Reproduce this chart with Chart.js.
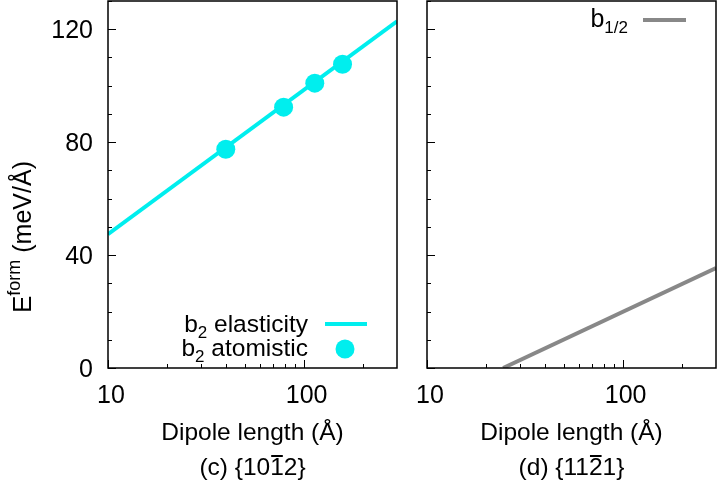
<!DOCTYPE html>
<html>
<head>
<meta charset="utf-8">
<script src="https://cdn.jsdelivr.net/npm/chart.js@4.4.0/dist/chart.umd.min.js"></script>
<style>
html, body { margin: 0; padding: 0; background: #fff; }
#wrap { position: relative; width: 717px; height: 482px; }
canvas { position: absolute; left: 0; top: 0; }
</style>
</head>
<body>
<div id="wrap">
  <canvas id="left" width="717" height="482"></canvas>
  <canvas id="right" width="717" height="482"></canvas>
</div>
<script>
// axis ranges and ticks
const xMin = 10, xMax = 300, yMin = 0, yMax = 130;
const xTickLabels = [10, 100];
const xMinorTicks = [20, 30, 40, 50, 60, 70, 80, 90, 200];
const yTickLabels = [0, 40, 80, 120];
const yMinorTicks = [10, 20, 30, 50, 60, 70, 90, 100, 110, 130];

// (c) b2 elasticity line and atomistic points
const elasticX = [10, 300];
const elasticY = [47.4, 122.8];
const atomX = [40, 79, 114, 158];
const atomY = [77.5, 92.4, 100.9, 107.6];

// (d) b1/2 line
const halfX = [24.5, 300];
const halfY = [0, 35.4];

const FONT = '"Liberation Sans", Arial, Helvetica, sans-serif';
const CYAN = '#00eeee';
const GRAY = '#888888';

const pts = (xs, ys) => xs.map((x, i) => ({ x: x, y: ys[i] }));

function drawRich(ctx, parts, x, y, align) {
    let w = 0;
    parts.forEach(p => {
        ctx.font = p.size + 'px ' + FONT;
        p.w = ctx.measureText(p.t).width;
        w += p.w;
    });
    let cx = align === 'right' ? x - w : align === 'center' ? x - w / 2 : x;
    ctx.textAlign = 'left';
    ctx.textBaseline = 'alphabetic';
    parts.forEach(p => {
        ctx.font = p.size + 'px ' + FONT;
        ctx.fillText(p.t, cx, y + (p.dy || 0));
        if (p.over) {
            ctx.beginPath();
            ctx.lineWidth = 2;
            ctx.moveTo(cx + 1, y - 19);
            ctx.lineTo(cx + p.w - 1, y - 19);
            ctx.stroke();
        }
        cx += p.w;
    });
}

function framePlugin(opts) {
    return {
        id: 'frame',
        afterDatasetsDraw(chart) {
            const ctx = chart.ctx;
            const a = chart.chartArea;
            const xs = chart.scales.x, ys = chart.scales.y;
            ctx.save();
            ctx.strokeStyle = '#000';
            ctx.fillStyle = '#000';
            ctx.lineWidth = 1.5;
            ctx.strokeRect(a.left, a.top, a.right - a.left, a.bottom - a.top);

            // inward tick marks
            ctx.lineWidth = 1;
            ctx.beginPath();
            xTickLabels.concat(xMinorTicks).forEach(v => {
                const px = Math.round(xs.getPixelForValue(v)) + 0.5;
                const len = xTickLabels.includes(v) ? 8 : 4;
                ctx.moveTo(px, a.bottom);
                ctx.lineTo(px, a.bottom - len);
            });
            yTickLabels.concat(yMinorTicks).forEach(v => {
                const py = Math.round(ys.getPixelForValue(v)) + 0.5;
                const len = yTickLabels.includes(v) ? 8 : 4;
                ctx.moveTo(a.left, py);
                ctx.lineTo(a.left + len, py);
            });
            ctx.stroke();

            // tick labels
            ctx.font = '25px ' + FONT;
            ctx.textBaseline = 'alphabetic';
            ctx.textAlign = 'center';
            xTickLabels.forEach(v => {
                ctx.fillText(String(v), xs.getPixelForValue(v) + 3, 403);
            });
            if (opts.yLabels) {
                ctx.textAlign = 'right';
                yTickLabels.forEach(v => {
                    ctx.fillText(String(v), a.left - 15, ys.getPixelForValue(v) + 9);
                });
                // rotated y title
                ctx.save();
                ctx.translate(31, 313);
                ctx.rotate(-Math.PI / 2);
                drawRich(ctx, [
                    { t: 'E', size: 26 },
                    { t: 'form', size: 18, dy: -11 },
                    { t: ' (meV/Å)', size: 25 }
                ], 0, 0, 'left');
                ctx.restore();
            }

            // x titles
            const cx = (a.left + a.right) / 2;
            ctx.textAlign = 'center';
            ctx.font = '24.5px ' + FONT;
            ctx.fillText('Dipole length (Å)', cx, 440);
            drawRich(ctx, opts.subtitle, cx, 475, 'center');

            // legend
            opts.legend(ctx);
            ctx.restore();
        }
    };
}

function makeChart(id, datasets, padding, opts) {
    return new Chart(document.getElementById(id), {
        type: 'scatter',
        data: { datasets: datasets },
        options: {
            responsive: false,
            animation: false,
            layout: { padding: padding, autoPadding: false },
            plugins: { legend: { display: false }, tooltip: { enabled: false } },
            scales: {
                x: { type: 'logarithmic', min: xMin, max: xMax, display: false },
                y: { type: 'linear', min: yMin, max: yMax, display: false }
            }
        },
        plugins: [framePlugin(opts)]
    });
}

makeChart('left', [
    {
        label: 'b2 elasticity',
        data: pts(elasticX, elasticY),
        showLine: true,
        borderColor: CYAN,
        borderWidth: 4,
        pointRadius: 0
    },
    {
        label: 'b2 atomistic',
        data: pts(atomX, atomY),
        showLine: false,
        backgroundColor: CYAN,
        borderColor: CYAN,
        borderWidth: 0,
        pointRadius: 9.5
    }
], { left: 108, right: 320, top: 1, bottom: 114 }, {
    yLabels: true,
    subtitle: [
        { t: '(c) {10', size: 24.5 },
        { t: '1', size: 24.5, over: true },
        { t: '2}', size: 24.5 }
    ],
    legend(ctx) {
        ctx.fillStyle = '#000';
        drawRich(ctx, [
            { t: 'b', size: 24.5 }, { t: '2', size: 17, dy: 6 }, { t: ' elasticity', size: 24.5 }
        ], 308, 332, 'right');
        drawRich(ctx, [
            { t: 'b', size: 24.5 }, { t: '2', size: 17, dy: 6 }, { t: ' atomistic', size: 24.5 }
        ], 308, 356, 'right');
        ctx.strokeStyle = CYAN;
        ctx.lineWidth = 4;
        ctx.beginPath();
        ctx.moveTo(325, 324);
        ctx.lineTo(367, 324);
        ctx.stroke();
        ctx.fillStyle = CYAN;
        ctx.beginPath();
        ctx.arc(345, 349, 9.5, 0, Math.PI * 2);
        ctx.fill();
    }
});

makeChart('right', [
    {
        label: 'b1/2',
        data: pts(halfX, halfY),
        showLine: true,
        borderColor: GRAY,
        borderWidth: 4,
        pointRadius: 0
    }
], { left: 427, right: 1, top: 1, bottom: 114 }, {
    yLabels: false,
    subtitle: [
        { t: '(d) {11', size: 24.5 },
        { t: '2', size: 24.5, over: true },
        { t: '1}', size: 24.5 }
    ],
    legend(ctx) {
        ctx.fillStyle = '#000';
        drawRich(ctx, [
            { t: 'b', size: 25 }, { t: '1/2', size: 17, dy: 6 }
        ], 628, 27, 'right');
        ctx.strokeStyle = GRAY;
        ctx.lineWidth = 4;
        ctx.beginPath();
        ctx.moveTo(643, 20);
        ctx.lineTo(686, 20);
        ctx.stroke();
    }
});
</script>
</body>
</html>
